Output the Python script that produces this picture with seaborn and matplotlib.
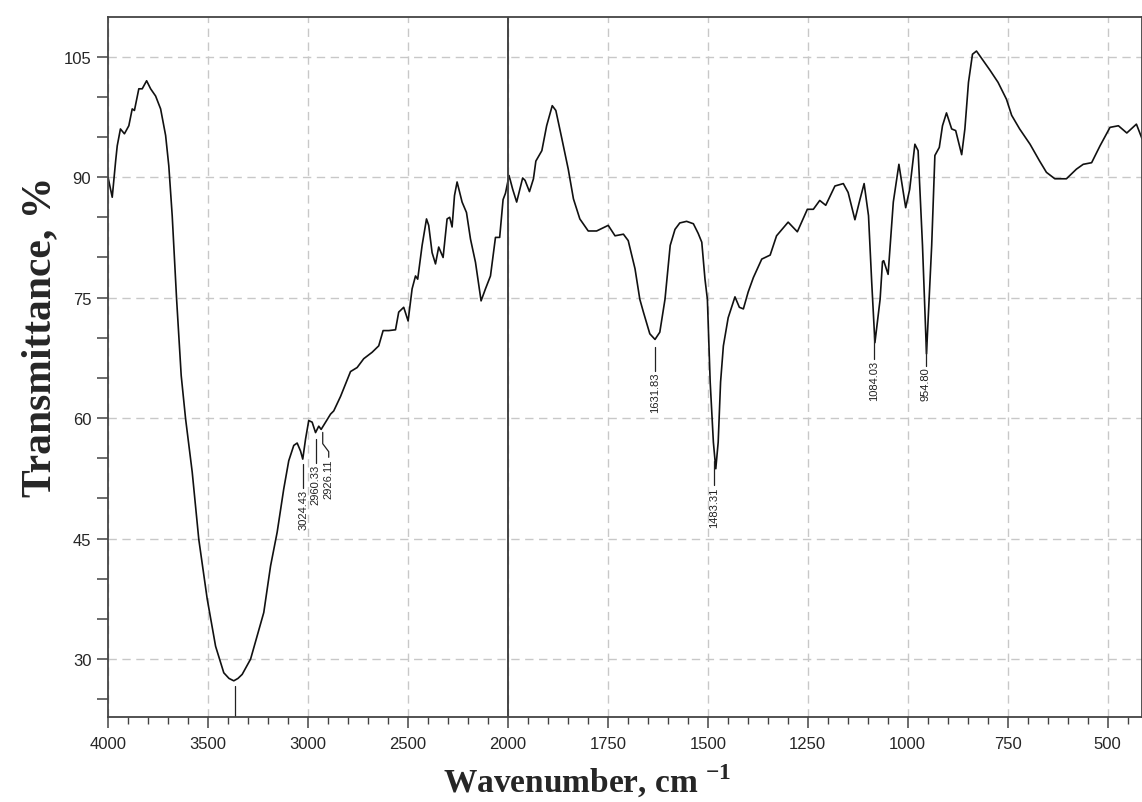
import numpy as np
import pandas as pd
import matplotlib
matplotlib.use("Agg")
import matplotlib.pyplot as plt
import seaborn as sns
from matplotlib.ticker import FixedLocator

# IR spectrum (wavenumber cm-1, transmittance %)
wavenumber = [
    4000, 3979, 3962, 3954, 3938, 3918, 3896, 3879, 3868, 3846, 3829, 3807,
    3787, 3762, 3737, 3712, 3696, 3679, 3657, 3634, 3612, 3579, 3546, 3504,
    3462, 3421, 3395, 3371, 3350, 3329, 3287, 3221, 3187, 3154, 3121, 3096,
    3071, 3054, 3037, 3026, 3012, 2996, 2979, 2962, 2946, 2934, 2912, 2887,
    2871, 2837, 2787, 2754, 2721, 2679, 2646, 2624, 2596, 2562, 2546, 2521,
    2499, 2479, 2462, 2451, 2429, 2407, 2396, 2379, 2362, 2346, 2324, 2304,
    2291, 2279, 2267, 2254, 2229, 2207, 2187, 2162, 2134, 2112, 2087, 2062,
    2041, 2024, 2012, 1997, 1988, 1978, 1963, 1957, 1946, 1936, 1930, 1915,
    1903, 1889, 1880, 1865, 1849, 1836, 1820, 1799, 1778, 1749, 1732, 1711,
    1699, 1682, 1670, 1661, 1645, 1632, 1620, 1607, 1594, 1582, 1570, 1553,
    1536, 1524, 1515, 1507, 1501, 1494, 1486, 1480, 1474, 1468, 1461, 1449,
    1432, 1421, 1411, 1399, 1386, 1365, 1344, 1328, 1299, 1276, 1251, 1236,
    1220, 1205, 1182, 1161, 1149, 1132, 1119, 1109, 1098, 1090, 1082, 1069,
    1063, 1060, 1049, 1036, 1022, 1005, 995, 982, 974, 963, 953, 940,
    932, 921, 913, 903, 890, 880, 865, 857, 848, 838, 828, 811,
    794, 774, 753, 740, 720, 694, 670, 653, 632, 603, 578, 561,
    540, 519, 494, 473, 452, 428, 414,
]
transmittance = [
    90.0, 87.5, 92.0, 93.9, 96.0, 95.4, 96.4, 98.5, 98.3, 101.0, 101.0, 102.0,
    101.0, 100.1, 98.5, 95.2, 91.4, 85.2, 74.8, 65.3, 59.9, 53.3, 44.9, 37.5,
    31.6, 28.3, 27.6, 27.3, 27.6, 28.1, 30.0, 35.8, 41.6, 45.8, 51.2, 54.7,
    56.6, 56.9, 55.9, 54.9, 57.4, 59.7, 59.5, 58.2, 59.0, 58.6, 59.5, 60.5,
    60.9, 62.7, 65.8, 66.3, 67.4, 68.2, 69.0, 70.9, 70.9, 71.0, 73.2, 73.8,
    72.1, 76.1, 77.7, 77.3, 81.5, 84.8, 84.0, 80.6, 79.2, 81.3, 80.0, 84.8,
    85.0, 83.8, 87.7, 89.4, 86.9, 85.6, 82.3, 79.4, 74.6, 76.1, 77.7, 82.5,
    82.5, 87.2, 88.0, 90.2, 88.5, 86.9, 89.9, 89.6, 88.2, 89.8, 92.0, 93.3,
    96.4, 98.9, 98.3, 94.8, 91.0, 87.3, 84.8, 83.3, 83.3, 84.0, 82.7, 82.9,
    82.1, 78.6, 74.8, 73.2, 70.5, 69.8, 70.7, 74.8, 81.5, 83.5, 84.3, 84.5,
    84.2, 83.0, 81.9, 77.3, 74.8, 64.5, 57.0, 53.7, 57.0, 64.5, 69.0, 72.5,
    75.1, 73.8, 73.6, 75.7, 77.5, 79.8, 80.3, 82.7, 84.4, 83.2, 86.0, 86.0,
    87.1, 86.5, 88.9, 89.2, 88.1, 84.7, 87.3, 89.2, 85.2, 76.9, 69.4, 74.8,
    79.5, 79.6, 77.9, 86.9, 91.6, 86.2, 88.5, 94.1, 93.3, 81.5, 68.0, 81.5,
    92.7, 93.7, 96.4, 98.0, 96.0, 95.8, 92.8, 96.0, 101.8, 105.3, 105.7, 104.5,
    103.3, 101.8, 99.7, 97.7, 96.0, 94.1, 92.0, 90.6, 89.8, 89.8, 91.0, 91.6,
    91.8, 93.9, 96.2, 96.4, 95.5, 96.6, 94.8,
]

# labelled peaks
peak_wn = [3024.43, 2960.33, 2926.11, 1631.83, 1483.31, 1084.03, 954.80]
peak_labels = ["3024.43", "2960.33", "2926.11", "1631.83", "1483.31", "1084.03", "954.80"]
main_band = 3364

x_major = [4000, 3500, 3000, 2500, 2000, 1750, 1500, 1250, 1000, 750, 500]
y_major = [30, 45, 60, 75, 90, 105]

df = pd.DataFrame({"wn": wavenumber, "T": transmittance})

sns.set_style("white")
plt.rcParams["font.family"] = ["Liberation Sans", "DejaVu Sans"]
plt.rcParams["mathtext.fontset"] = "custom"
plt.rcParams["mathtext.rm"] = "Liberation Serif"
plt.rcParams["mathtext.bf"] = "Liberation Serif:bold"

fig = plt.figure(figsize=(11.42, 8.03), dpi=100)
ax = fig.add_axes([0.0946, 0.1059, 0.9054, 0.8713])

sns.lineplot(data=df, x="wn", y="T", sort=False, estimator=None,
             color="#111111", linewidth=1.2, ax=ax)


# spectrometer style axis: 2000 cm-1 per half on the left, twice as wide below 2000
def fwd(w):
    w = np.asarray(w, dtype=float)
    return np.where(w >= 2000, w - 2000, 2 * (w - 2000))


def inv(p):
    p = np.asarray(p, dtype=float)
    return np.where(p >= 0, p + 2000, p / 2 + 2000)


ax.set_xscale("function", functions=(fwd, inv))
ax.set_xlim(4000, 414)
ax.set_ylim(22.8, 109.9)

x_minor = list(range(4000, 2000, -100)) + list(range(2000, 400, -50))
ax.xaxis.set_major_locator(FixedLocator(x_major))
ax.xaxis.set_minor_locator(FixedLocator(x_minor))
ax.yaxis.set_major_locator(FixedLocator(y_major))
ax.yaxis.set_minor_locator(FixedLocator(list(range(25, 111, 5))))
ax.set_xticklabels([str(v) for v in x_major])
ax.set_yticklabels([str(v) for v in y_major])

ax.grid(which="major", linestyle=(0, (6, 4)), color="#c8c8c8", linewidth=1.0)
ax.axvline(2000, color="#444444", linewidth=1.4, zorder=3)

for s in ax.spines.values():
    s.set_color("#444444")
    s.set_linewidth(1.3)

ax.tick_params(axis="x", which="major", direction="out", length=8, width=1.1,
               color="#444444", labelsize=12, pad=6)
ax.tick_params(axis="x", which="minor", direction="out", length=5, width=1.0,
               color="#444444")
ax.tick_params(axis="y", which="both", direction="out", length=8, width=1.1,
               color="#444444", labelsize=12, pad=4)
ax.tick_params(axis="both", which="both", bottom=True, left=True)

# peak markers
wn_asc = np.array(wavenumber)[::-1]
t_asc = np.array(transmittance)[::-1]
for wn, lab in zip(peak_wn, peak_labels):
    tmin = np.interp(wn, wn_asc, t_asc)
    if lab == "2926.11":
        wx = wn - 30
        ax.plot([wn, wn, wx, wx], [tmin - 0.7, tmin - 2.1, tmin - 3.1, tmin - 3.8],
                color="#222222", linewidth=0.9)
        ax.text(wx, tmin - 3.9, lab, rotation=90, ha="center", va="top",
                fontsize=8, color="#222222")
    else:
        ax.plot([wn, wn], [tmin - 0.9, tmin - 3.9], color="#222222", linewidth=0.9)
        ax.text(wn, tmin - 4.0, lab, rotation=90, ha="center", va="top",
                fontsize=8, color="#222222")

tband = np.interp(main_band, wn_asc, t_asc)
ax.plot([main_band, main_band], [tband - 0.8, 22.8], color="#222222", linewidth=0.9)

ax.set_xlabel(r"Wavenumber, cm $^{\mathbf{-1}}$", fontfamily="Liberation Serif",
              fontweight="bold", fontsize=24)
ax.set_ylabel("Transmittance, %", fontfamily="Liberation Serif",
              fontweight="bold", fontsize=30)
ax.xaxis.set_label_coords(0.463, -0.064)
ax.yaxis.set_label_coords(-0.047, 0.545)

fig.savefig("out.png", dpi=100)
